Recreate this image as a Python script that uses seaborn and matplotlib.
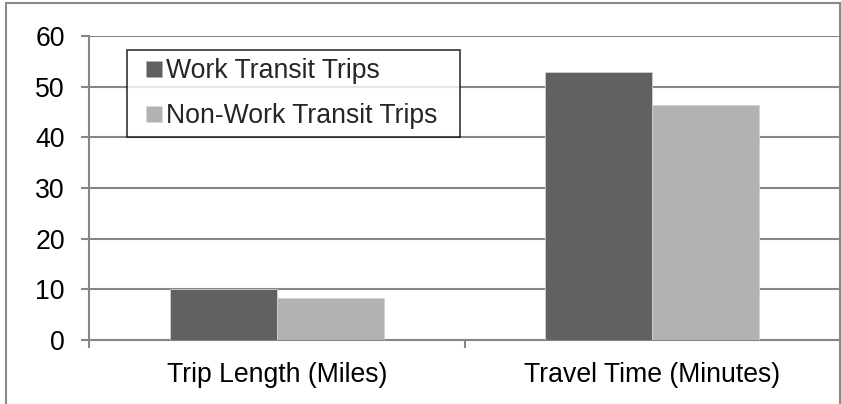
import matplotlib
matplotlib.use("Agg")
import matplotlib.pyplot as plt
import seaborn as sns
import pandas as pd
from matplotlib.patches import Rectangle
from matplotlib.lines import Line2D

categories = ["Trip Length (Miles)", "Travel Time (Minutes)"]
series_names = ["Work Transit Trips", "Non-Work Transit Trips"]
work_values = [10.0, 52.8]
nonwork_values = [8.2, 46.3]
y_ticks = [0, 10, 20, 30, 40, 50, 60]
colors = ["#616161", "#b2b2b2"]

df = pd.DataFrame({
    "category": categories * 2,
    "series": [series_names[0]] * 2 + [series_names[1]] * 2,
    "value": work_values + nonwork_values,
})

sns.set_style("white")
plt.rcParams["font.family"] = ["Liberation Sans", "DejaVu Sans"]

FS = 19.2
fig = plt.figure(figsize=(8.41, 4.04), dpi=100)
ax = fig.add_axes([89 / 841, 1 - 340 / 404, 751 / 841, 304 / 404])

grid_c = "#868686"
sns.barplot(data=df, x="category", y="value", hue="series", order=categories,
            hue_order=series_names, palette=colors, width=0.57,
            saturation=1, ax=ax, edgecolor="#d0d0d0", linewidth=0.6, zorder=3,
            legend=False)

ax.set_xlim(-0.5, 1.5)
ax.set_ylim(0, 60)
ax.set_yticks(y_ticks)
ax.set_yticklabels([str(v) for v in y_ticks])
ax.yaxis.grid(True, color=grid_c, linewidth=1.5)
ax.set_axisbelow(True)
ax.set_xlabel("")
ax.set_ylabel("")

for s in ["top", "right"]:
    ax.spines[s].set_visible(False)
for s in ["left", "bottom"]:
    ax.spines[s].set_visible(True)
    ax.spines[s].set_color(grid_c)
    ax.spines[s].set_linewidth(1.5)

ax.tick_params(axis="y", which="major", left=True, length=5.8, width=1.5, color=grid_c,
               labelsize=FS, pad=11.5, labelcolor="black")
ax.set_xticks([0, 1])
ax.set_xticks([-0.5, 0.5, 1.5], minor=True)
ax.tick_params(axis="x", which="major", bottom=False, length=0, labelsize=FS, pad=15.5,
               labelcolor="black")
ax.tick_params(axis="x", which="minor", bottom=True, length=5.5, width=1.5, color=grid_c)

handles = [Line2D([0], [0], linestyle="none", marker="s", markersize=11,
                  markerfacecolor=c, markeredgecolor="none") for c in colors]
labels = [series_names[0], series_names[1] + "  "]
leg = ax.legend(handles, labels, loc="upper left",
                bbox_to_anchor=(38.3 / 751, (340 - 50) / 304),
                borderaxespad=0, fontsize=FS, frameon=True, fancybox=False,
                handlelength=1.35, handletextpad=-0.22,
                labelspacing=0.70, borderpad=0.31)
leg.get_frame().set_edgecolor("black")
leg.get_frame().set_linewidth(1.2)

fig.patches.append(Rectangle((6 / 841, -0.1), (839.5 - 6) / 841, 1 - 3 / 404 + 0.1,
                             transform=fig.transFigure, fill=False,
                             edgecolor="#8a8a8a", linewidth=1.5))

fig.savefig("out.png", dpi=100)
